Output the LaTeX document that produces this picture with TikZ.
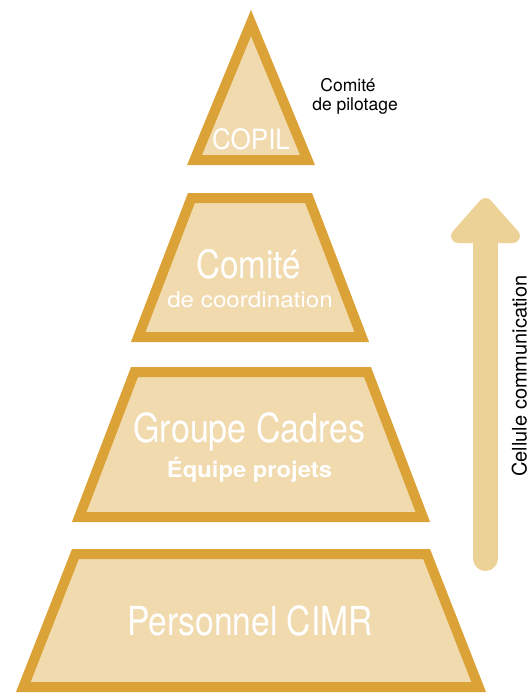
\documentclass[tikz,border=0pt]{standalone}
\usepackage{fontspec}
\setmainfont{TeX Gyre Heros}
\definecolor{gold}{HTML}{DBA337}
\definecolor{sand}{HTML}{F0DAAE}
\definecolor{arrowsand}{HTML}{EDD298}
\begin{document}
\begin{tikzpicture}[x=1pt,y=-1pt,
  level/.style={draw=gold, fill=sand, line width=10pt, line join=miter},
  lbl/.style={text=white, anchor=base, inner sep=0pt},
  side/.style={text=black, anchor=base, inner sep=0pt},
]
\useasboundingbox (0,0) rectangle (531,693);
% pyramid levels
\path[level] (251,23) -- (307.5,160) -- (194.5,160) -- cycle;
\path[level] (250-58.6,198) -- (250+58.6,198) -- (250+111.8,337) -- (250-111.8,337) -- cycle;
\path[level] (251-116.5,372) -- (251+116.5,372) -- (251+171.8,517) -- (251-171.8,517) -- cycle;
\path[level] (251-175.6,554) -- (251+175.6,554) -- (251+227.7,687) -- (251-227.7,687) -- cycle;
% arrow
\coordinate (abot) at (485.5,558.5);
\coordinate (atop) at (485.5,232);
\draw[arrowsand, line width=25pt, line cap=round] (abot) -- (atop);
\coordinate (tip) at (485.5,205);
\coordinate (wl) at (458,236);
\coordinate (wr) at (513,236);
\filldraw[arrowsand, line width=14pt, line join=round] (tip) -- (wr) -- (wl) -- cycle;
% labels
\node[lbl, xscale=0.93, font=\fontsize{28}{28}\selectfont] (copil) at (251,149) {COPIL};
\node[lbl, xscale=0.85, font=\fontsize{39}{39}\selectfont] (comite) at (248.5,278) {Comité};
\node[lbl, xscale=1.1, font=\fontsize{22}{22}\selectfont] (coord) at (250,307) {de coordination};
\node[lbl, xscale=0.85, font=\fontsize{40}{40}\selectfont] (groupe) at (249.5,442) {Groupe Cadres};
\node[lbl, xscale=1.08, font=\bfseries\fontsize{22}{22}\selectfont] (equipe) at (249.5,477) {Équipe projets};
\node[lbl, xscale=0.84, font=\fontsize{40}{40}\selectfont] (perso) at (250,635) {Personnel CIMR};
\node[side, font=\fontsize{17.5}{17.5}\selectfont] (pilA) at (348,91) {Comité};
\node[side, font=\fontsize{17.5}{17.5}\selectfont] (pilB) at (355,110) {de pilotage};
\node[side, rotate=90, font=\fontsize{20}{20}\selectfont] (cellule) at (526.5,376) {Cellule communication};
\end{tikzpicture}
\end{document}
